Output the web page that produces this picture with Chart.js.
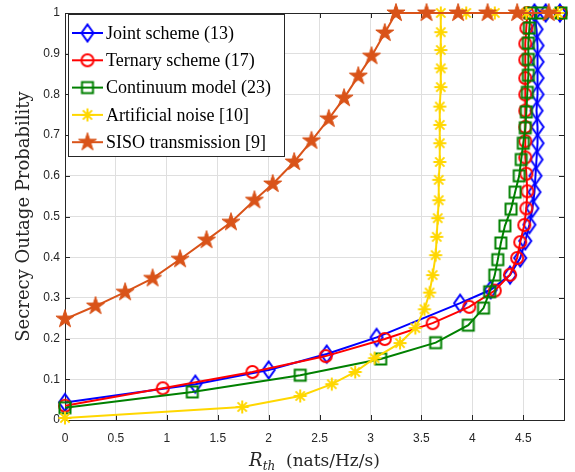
<!DOCTYPE html>
<html>
<head>
<meta charset="utf-8">
<script src="https://cdn.jsdelivr.net/npm/chart.js@4.4.1/dist/chart.umd.min.js"></script>
<style>
  html, body { margin: 0; padding: 0; background: #fff; }
  #wrap { width: 575px; height: 472px; }
</style>
</head>
<body>
<div id="wrap"><canvas id="grafico"></canvas></div>
<script>
// Datos (Secrecy Outage Probability vs R_th)
const xTicks = [0, 0.5, 1, 1.5, 2, 2.5, 3, 3.5, 4, 4.5];
const yTicks = [0, 0.1, 0.2, 0.3, 0.4, 0.5, 0.6, 0.7, 0.8, 0.9, 1];

const seriesNames = ["Joint scheme (13)", "Ternary scheme (17)", "Continuum model (23)", "Artificial noise [10]", "SISO transmission [9]"];

const jointX = [0, 1.28, 2.0, 2.57, 3.06, 3.88, 4.18, 4.37, 4.47, 4.52, 4.56, 4.59, 4.61, 4.62, 4.63, 4.64, 4.64, 4.63, 4.64, 4.64, 4.64, 4.64, 4.63, 4.61, 4.72, 4.86];
const jointY = [0.043, 0.088, 0.123, 0.162, 0.203, 0.287, 0.32, 0.356, 0.398, 0.44, 0.48, 0.52, 0.56, 0.60, 0.64, 0.68, 0.72, 0.76, 0.80, 0.84, 0.88, 0.92, 0.96, 1.0, 1.0, 1.0];

const ternaryX = [0, 0.96, 1.84, 2.56, 3.14, 3.61, 3.97, 4.22, 4.37, 4.44, 4.47, 4.51, 4.53, 4.54, 4.53, 4.52, 4.52, 4.52, 4.52, 4.52, 4.52, 4.52, 4.52, 4.53, 4.54, 4.87];
const ternaryY = [0.035, 0.078, 0.118, 0.157, 0.199, 0.238, 0.278, 0.318, 0.357, 0.398, 0.437, 0.479, 0.52, 0.562, 0.605, 0.645, 0.685, 0.72, 0.76, 0.80, 0.84, 0.885, 0.925, 0.963, 1.0, 1.0];

const continuumX = [0, 1.25, 2.31, 3.1, 3.64, 3.96, 4.11, 4.17, 4.22, 4.25, 4.28, 4.32, 4.38, 4.42, 4.46, 4.48, 4.5, 4.52, 4.53, 4.54, 4.55, 4.55, 4.55, 4.56, 4.57, 4.68, 4.87];
const continuumY = [0.03, 0.069, 0.11, 0.15, 0.19, 0.233, 0.275, 0.315, 0.356, 0.394, 0.435, 0.477, 0.518, 0.56, 0.6, 0.64, 0.68, 0.718, 0.757, 0.805, 0.847, 0.886, 0.926, 0.963, 1.0, 1.0, 1.0];

const noiseX = [0, 1.74, 2.31, 2.62, 2.85, 3.04, 3.29, 3.44, 3.53, 3.58, 3.61, 3.64, 3.65, 3.66, 3.67, 3.67, 3.68, 3.68, 3.68, 3.68, 3.69, 3.69, 3.69, 3.69, 3.69, 3.94, 4.22, 4.53, 4.84];
const noiseY = [0.005, 0.032, 0.059, 0.088, 0.118, 0.152, 0.189, 0.226, 0.272, 0.313, 0.356, 0.405, 0.45, 0.496, 0.54, 0.59, 0.634, 0.68, 0.725, 0.77, 0.818, 0.864, 0.909, 0.953, 1.0, 1.0, 1.0, 1.0, 1.0];

const sisoX = [0, 0.3, 0.59, 0.86, 1.13, 1.39, 1.63, 1.86, 2.04, 2.25, 2.42, 2.59, 2.74, 2.88, 3.01, 3.14, 3.25, 3.55, 3.86, 4.15, 4.44, 4.75, 4.87];
const sisoY = [0.248, 0.28, 0.314, 0.348, 0.395, 0.442, 0.486, 0.54, 0.58, 0.634, 0.686, 0.74, 0.791, 0.845, 0.894, 0.951, 1.0, 1.0, 1.0, 1.0, 1.0, 1.0, 1.0];

const colores = ["#0000ff", "#ff0000", "#008000", "#ffd700", "#d95319"];
const tiposMarcador = ["diamond", "circle", "square", "asterisk", "pentagram"];

/* =====================================================
   MARCADORES ESTILO MATLAB (canvas como pointStyle)
===================================================== */
function crearMarcador(tipo, color) {
    const c = document.createElement("canvas");
    c.width = 26; c.height = 26;
    const g = c.getContext("2d");
    g.translate(13, 13);
    g.strokeStyle = color;
    g.fillStyle = color;
    g.lineWidth = 2;
    g.beginPath();
    if (tipo === "diamond") {
        g.moveTo(0, -8.5); g.lineTo(6, 0); g.lineTo(0, 8.5); g.lineTo(-6, 0); g.closePath();
        g.stroke();
    } else if (tipo === "circle") {
        g.arc(0, 0, 6, 0, Math.PI * 2);
        g.stroke();
    } else if (tipo === "square") {
        g.rect(-5.5, -5.5, 11, 11);
        g.stroke();
    } else if (tipo === "asterisk") {
        const r = 6.5, d = r * Math.SQRT1_2;
        g.moveTo(-r, 0); g.lineTo(r, 0);
        g.moveTo(0, -r); g.lineTo(0, r);
        g.moveTo(-d, -d); g.lineTo(d, d);
        g.moveTo(-d, d); g.lineTo(d, -d);
        g.stroke();
    } else if (tipo === "pentagram") {
        const R = 9.5, ri = R * 0.382;
        for (let i = 0; i < 10; i++) {
            const rad = i % 2 === 0 ? R : ri;
            const a = -Math.PI / 2 + i * Math.PI / 5;
            const px = rad * Math.cos(a), py = rad * Math.sin(a);
            if (i === 0) g.moveTo(px, py); else g.lineTo(px, py);
        }
        g.closePath();
        g.fill();
        g.lineWidth = 1;
        g.stroke();
    }
    return c;
}

const marcadores = tiposMarcador.map((t, i) => crearMarcador(t, colores[i]));

function aPuntos(xs, ys) {
    return xs.map((x, i) => ({ x: x, y: ys[i] }));
}

const todasX = [jointX, ternaryX, continuumX, noiseX, sisoX];
const todasY = [jointY, ternaryY, continuumY, noiseY, sisoY];

const datasets = seriesNames.map((nombre, i) => ({
    label: nombre,
    data: aPuntos(todasX[i], todasY[i]),
    borderColor: colores[i],
    backgroundColor: colores[i],
    borderWidth: 2,
    pointStyle: marcadores[i],
    // el último punto de SISO no lleva marcador
    pointRadius: ctx => (i === 4 && ctx.dataIndex === sisoX.length - 1) ? 0 : 6,
    pointHoverRadius: 6,
    tension: 0,
    clip: false,
    order: 4 - i
}));

/* =====================================================
   PLUGINS: MARCO, TICKS INTERIORES, LEYENDA, TÍTULO X
===================================================== */
const TINTA = "#262626";
const SERIF_TEX = "'DejaVu Serif', 'Liberation Serif', serif";

const marcoPlugin = {
    id: "marcoMatlab",
    beforeDatasetsDraw(chart) {
        const { ctx, chartArea: a, scales: { x, y } } = chart;
        ctx.save();
        ctx.strokeStyle = TINTA;
        ctx.lineWidth = 1;
        ctx.beginPath();
        xTicks.forEach(v => {
            const px = Math.round(x.getPixelForValue(v)) + 0.5;
            ctx.moveTo(px, a.bottom); ctx.lineTo(px, a.bottom - 5);
            ctx.moveTo(px, a.top); ctx.lineTo(px, a.top + 5);
        });
        yTicks.forEach(v => {
            const py = Math.round(y.getPixelForValue(v)) + 0.5;
            ctx.moveTo(a.left, py); ctx.lineTo(a.left + 5, py);
            ctx.moveTo(a.right, py); ctx.lineTo(a.right - 5, py);
        });
        ctx.stroke();
        ctx.strokeRect(Math.round(a.left) + 0.5, Math.round(a.top) + 0.5,
            Math.round(a.right - a.left), Math.round(a.bottom - a.top));
        ctx.restore();
    }
};

const leyendaPlugin = {
    id: "leyendaMatlab",
    afterDatasetsDraw(chart) {
        const { ctx } = chart;
        const caja = { x: 68.5, y: 14.5, w: 216, h: 142 };
        ctx.save();
        ctx.fillStyle = "#ffffff";
        ctx.fillRect(caja.x, caja.y, caja.w, caja.h);
        ctx.strokeStyle = TINTA;
        ctx.lineWidth = 1;
        ctx.strokeRect(caja.x, caja.y, caja.w, caja.h);
        ctx.font = "18px 'Liberation Serif', 'Times New Roman', serif";
        ctx.textBaseline = "middle";
        ctx.textAlign = "left";
        seriesNames.forEach((nombre, i) => {
            const cy = 33 + i * 27.3;
            ctx.strokeStyle = colores[i];
            ctx.lineWidth = 2;
            ctx.beginPath();
            ctx.moveTo(72, cy); ctx.lineTo(103, cy);
            ctx.stroke();
            const m = marcadores[i];
            ctx.drawImage(m, 87.5 - m.width / 2, cy - m.height / 2);
            ctx.fillStyle = "#000000";
            ctx.fillText(nombre, 106, cy + 1);
        });
        ctx.restore();
    }
};

const tituloXPlugin = {
    id: "tituloX",
    afterDraw(chart) {
        const { ctx, chartArea: a } = chart;
        const base = 466;
        const fR = "italic 18px " + SERIF_TEX;
        const fSub = "italic 12px " + SERIF_TEX;
        const fTxt = "17px " + SERIF_TEX;
        ctx.save();
        ctx.fillStyle = TINTA;
        ctx.textBaseline = "alphabetic";
        ctx.textAlign = "left";
        ctx.font = fR; const wR = ctx.measureText("R").width;
        ctx.font = fSub; const wS = ctx.measureText("th").width;
        ctx.font = fTxt; const wT = ctx.measureText("  (nats/Hz/s)").width;
        let x0 = (a.left + a.right) / 2 - (wR + wS + wT) / 2;
        ctx.font = fR; ctx.fillText("R", x0, base); x0 += wR;
        ctx.font = fSub; ctx.fillText("th", x0, base + 4); x0 += wS;
        ctx.font = fTxt; ctx.fillText("  (nats/Hz/s)", x0, base);
        ctx.restore();
    }
};

/* =====================================================
   GRÁFICO
===================================================== */
const fuenteTicks = { family: "'Liberation Sans', Arial, sans-serif", size: 12 };

new Chart(document.getElementById("grafico"), {
    type: "line",
    data: { datasets: datasets },
    options: {
        responsive: true,
        maintainAspectRatio: false,
        animation: false,
        layout: { padding: { top: 13, right: 11, left: 0, bottom: 0 } },
        plugins: { legend: { display: false }, tooltip: { enabled: false } },
        scales: {
            x: {
                type: "linear",
                min: 0,
                max: 4.9,
                afterBuildTicks: s => { s.ticks = xTicks.map(v => ({ value: v })); },
                afterFit: s => { s.height = 52; },
                grid: { color: "#dfdfdf", drawTicks: false },
                border: { display: false },
                ticks: {
                    font: fuenteTicks,
                    color: TINTA,
                    padding: 11,
                    maxRotation: 0,
                    callback: v => String(v)
                }
            },
            y: {
                type: "linear",
                min: 0,
                max: 1,
                afterBuildTicks: s => { s.ticks = yTicks.map(v => ({ value: v })); },
                afterFit: s => { s.width = 65; },
                grid: { color: "#dfdfdf", drawTicks: false },
                border: { display: false },
                ticks: {
                    font: fuenteTicks,
                    color: TINTA,
                    padding: 5,
                    callback: v => String(Math.round(v * 10) / 10)
                },
                title: {
                    display: true,
                    text: "Secrecy Outage Probability",
                    color: TINTA,
                    font: { family: SERIF_TEX, size: 18 },
                    padding: { top: 14, bottom: 0 }
                }
            }
        }
    },
    plugins: [marcoPlugin, leyendaPlugin, tituloXPlugin]
});
</script>
</body>
</html>
